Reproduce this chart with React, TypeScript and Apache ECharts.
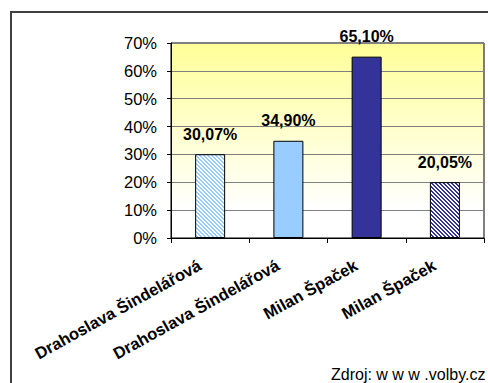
import React, { useEffect, useRef } from "react";
import * as echarts from "echarts";

const categories = [
  "Drahoslava Šindelářová",
  "Drahoslava Šindelářová",
  "Milan Špaček",
  "Milan Špaček",
];
const values = [30.07, 34.9, 65.1, 20.05];
const yTicks = { min: 0, max: 70, interval: 10 };
const sourceText = "Zdroj: w w w .volby.cz";

const FONT = "'Liberation Sans', Arial, sans-serif";

function stripePattern(fg: string, bg: string) {
  const size = 4;
  const c = document.createElement("canvas");
  c.width = size;
  c.height = size;
  const ctx = c.getContext("2d")!;
  for (let y = 0; y < size; y++) {
    for (let x = 0; x < size; x++) {
      const k = (((x - y) % size) + size) % size;
      ctx.fillStyle = k < 2 ? fg : bg;
      ctx.fillRect(x, y, 1, 1);
    }
  }
  return {
    image: c.toDataURL(),
    repeat: "repeat",
    imageWidth: size,
    imageHeight: size,
  } as any;
}

export default function App() {
  const ref = useRef<HTMLDivElement>(null);
  useEffect(() => {
    const chart = echarts.init(ref.current!, undefined, { renderer: "svg" });
    const fills: any[] = [
      stripePattern("#99CCFF", "#FFFFFF"),
      "#99CCFF",
      "#333399",
      stripePattern("#333399", "#FFFFFF"),
    ];
    chart.setOption({
      animation: false,
      backgroundColor: "#FFFFFF",
      textStyle: { fontFamily: FONT },
      grid: {
        left: 171,
        right: 4,
        top: 43,
        bottom: 145,
        show: true,
        borderColor: "#000000",
        borderWidth: 1,
        backgroundColor: new echarts.graphic.LinearGradient(0, 0, 0, 1, [
          { offset: 0, color: "#FFFF99" },
          { offset: 0.55, color: "#FFFFDA" },
          { offset: 0.85, color: "#FFFFFF" },
          { offset: 1, color: "#FFFFFF" },
        ]),
      },
      xAxis: {
        type: "category",
        data: categories,
        axisLine: { lineStyle: { color: "#000000", width: 1 } },
        axisTick: { show: true, length: 5, lineStyle: { color: "#000000" } },
        axisLabel: {
          interval: 0,
          rotate: 29,
          margin: 20,
          padding: [0, 12, 0, 0],
          color: "#000000",
          fontFamily: FONT,
          fontWeight: "bold",
          fontSize: 16.5,
        },
      },
      yAxis: {
        type: "value",
        min: yTicks.min,
        max: yTicks.max,
        interval: yTicks.interval,
        axisLine: { show: true, lineStyle: { color: "#000000", width: 1 } },
        axisTick: { show: true, length: 4, lineStyle: { color: "#000000" } },
        axisLabel: {
          formatter: "{value}%",
          color: "#000000",
          fontFamily: FONT,
          fontSize: 16.5,
          margin: 14,
        },
        splitLine: { lineStyle: { color: "#808080", width: 1 } },
      },
      series: [
        {
          type: "bar",
          barWidth: 30,
          data: values.map((v, i) => ({
            value: v,
            itemStyle: {
              color: fills[i],
              borderColor: "#000000",
              borderWidth: 1,
            },
          })),
          label: {
            show: true,
            position: "top",
            distance: 12,
            color: "#000000",
            fontFamily: FONT,
            fontWeight: "bold",
            fontSize: 16,
            formatter: (p: any) => p.value.toFixed(2).replace(".", ",") + "%",
          },
        },
      ],
      graphic: [
        {
          type: "rect",
          shape: { x: 11, y: 12, width: 520, height: 420 },
          style: { fill: "none", stroke: "#404040", lineWidth: 2 },
          silent: true,
        },
        {
          type: "text",
          x: 331,
          y: 382,
          style: {
            text: sourceText,
            fill: "#000000",
            font: `16px ${FONT}`,
            textVerticalAlign: "bottom",
          },
        },
      ],
    });
    return () => chart.dispose();
  }, []);
  return (
    <div
      ref={ref}
      style={{ position: "fixed", left: 0, top: 0, width: 488, height: 383 }}
    />
  );
}
